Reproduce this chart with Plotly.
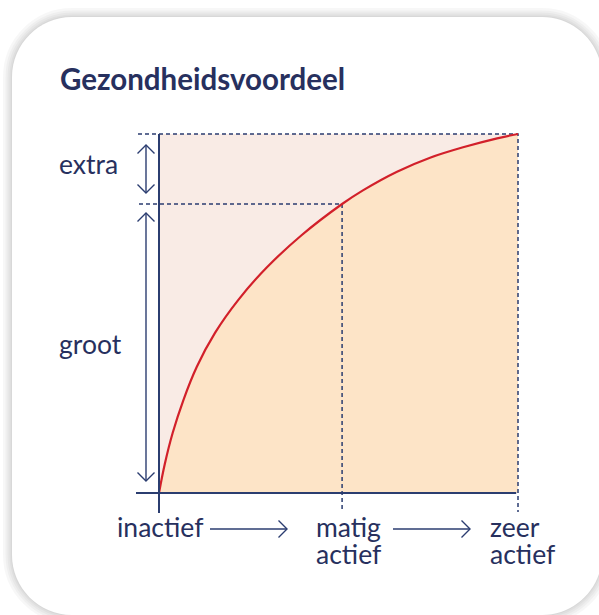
import plotly.graph_objects as go

# ---- data (activity 0..1, health benefit 0..1) ----
activity = [0, 0.016, 0.038, 0.068, 0.105, 0.156, 0.221, 0.300, 0.397,
            0.510, 0.568, 0.663, 0.755, 0.847, 0.942, 1.0]
benefit = [0, 0.080, 0.167, 0.259, 0.351, 0.446, 0.538, 0.628, 0.718,
           0.805, 0.843, 0.895, 0.934, 0.963, 0.988, 1.0]
moderate_x, moderate_y = 0.510, 0.805
level_labels = ["inactief", "matig<br>actief", "zeer<br>actief"]
band_labels = ["extra", "groot"]
title_text = "Gezondheidsvoordeel"

# ---- layout constants (page pixels) ----
W, H = 599, 615
X0PX, X1PX, Y0PX, Y1PX = 159, 518, 493, 134
S = (X1PX - X0PX)


def X(px):
    return (px - X0PX) / S


def Y(py):
    return (Y0PX - py) / S


NAVY = "#27305e"
LINE = "#2b3d70"
RED = "#d2202a"
FILL_UNDER = "#fde4c7"
FILL_ABOVE = "#f9ebe5"
FONT = "Lato"
FS = 26.5

fig = go.Figure()

# background square (above curve)
fig.add_trace(go.Scatter(x=[0, 1, 1, 0, 0], y=[0, 0, 1, 1, 0], fill="toself",
                         fillcolor=FILL_ABOVE, line=dict(width=0), mode="lines",
                         hoverinfo="skip"))
# area under curve
fig.add_trace(go.Scatter(x=activity, y=benefit, fill="tozeroy", fillcolor=FILL_UNDER,
                         line=dict(width=0), mode="lines", line_shape="spline",
                         hoverinfo="skip"))

dash = dict(color=LINE, width=1.5, dash="4px,3px")
# dashed guides
fig.add_trace(go.Scatter(x=[X(138), 1, 1], y=[1, 1, Y(512)], mode="lines", line=dash, hoverinfo="skip"))
fig.add_trace(go.Scatter(x=[X(139), moderate_x, moderate_x], y=[moderate_y, moderate_y, Y(512)],
                         mode="lines", line=dash, hoverinfo="skip"))

# curve
fig.add_trace(go.Scatter(x=activity, y=benefit, mode="lines", line_shape="spline",
                         line=dict(color=RED, width=2.2), hoverinfo="skip"))

# axes
fig.add_trace(go.Scatter(x=[X(136), 0.995], y=[0, 0], mode="lines",
                         line=dict(color=LINE, width=2), hoverinfo="skip"))
fig.add_trace(go.Scatter(x=[0, 0], y=[1, Y(513)], mode="lines",
                         line=dict(color=LINE, width=2), hoverinfo="skip"))

# arrows
A = 8.5 / S
arrow_style = dict(color=LINE, width=1.4)


def varrow(xp, top, bot):
    x = X(xp)
    yt, yb = Y(top), Y(bot)
    xs = [x - A, x, x + A, None, x, x, None, x - A, x, x + A]
    ys = [yt - A, yt, yt - A, None, yt, yb, None, yb + A, yb, yb + A]
    fig.add_trace(go.Scatter(x=xs, y=ys, mode="lines", line=arrow_style, hoverinfo="skip"))


def harrow(left, right, yp):
    y = Y(yp)
    xl, xr = X(left), X(right)
    xs = [xl, xr, None, xr - A, xr, xr - A]
    ys = [y, y, None, y + A, y, y - A]
    fig.add_trace(go.Scatter(x=xs, y=ys, mode="lines", line=arrow_style, hoverinfo="skip"))


varrow(146, 145, 193)
varrow(146, 213, 481)
harrow(210, 287, 529)
harrow(393, 470, 529)

ann = []
ann.append(dict(x=X(58), y=Y(78), text="<b>" + title_text + "</b>", xanchor="left", yanchor="middle",
                font=dict(family=FONT, size=29.5, color=NAVY)))
ann.append(dict(x=X(57), y=Y(164), text=band_labels[0], xanchor="left", yanchor="middle",
                font=dict(family=FONT, size=FS, color=NAVY)))
ann.append(dict(x=X(57), y=Y(344), text=band_labels[1], xanchor="left", yanchor="middle",
                font=dict(family=FONT, size=FS, color=NAVY)))
ann.append(dict(x=X(160), y=Y(527), text=level_labels[0], xanchor="center", yanchor="middle",
                font=dict(family=FONT, size=FS, color=NAVY)))
for xp, lab in [(314, level_labels[1]), (488, level_labels[2])]:
    l1, l2 = lab.split("<br>")
    ann.append(dict(x=X(xp), y=Y(527), text=l1, xanchor="left", yanchor="middle",
                    font=dict(family=FONT, size=FS, color=NAVY)))
    ann.append(dict(x=X(xp), y=Y(554), text=l2, xanchor="left", yanchor="middle",
                    font=dict(family=FONT, size=FS, color=NAVY)))
for a in ann:
    a.update(showarrow=False, xref="x", yref="y")


# card with soft shadow (paper coords)
def card_path(l, t, r, b, rad):
    def P(px, py):
        return f"{px / W:.5f},{1 - py / H:.5f}"
    k = 0.55 * rad
    return (f"M {P(l + rad, t)} L {P(r - rad, t)} C {P(r - rad + k, t)} {P(r, t + rad - k)} {P(r, t + rad)} "
            f"L {P(r, b - rad)} C {P(r, b - rad + k)} {P(r - rad + k, b)} {P(r - rad, b)} "
            f"L {P(l + rad, b)} C {P(l + rad - k, b)} {P(l, b - rad + k)} {P(l, b - rad)} "
            f"L {P(l, t + rad)} C {P(l, t + rad - k)} {P(l + rad - k, t)} {P(l + rad, t)} Z")


CARD = (12, 17, 602, 615, 60)
shapes = []
for w in [18, 13, 9, 5, 2]:
    shapes.append(dict(type="path", xref="paper", yref="paper", layer="below",
                       path=card_path(*CARD),
                       line=dict(color="rgba(0,0,0,0.03)", width=w), fillcolor="rgba(0,0,0,0)"))
shapes.append(dict(type="path", xref="paper", yref="paper", layer="below",
                   path=card_path(*CARD),
                   line=dict(width=0), fillcolor="white"))

fig.update_layout(
    width=W, height=H, autosize=False,
    margin=dict(l=0, r=0, t=0, b=0, pad=0),
    paper_bgcolor="white", plot_bgcolor="rgba(0,0,0,0)",
    showlegend=False,
    xaxis=dict(range=[X(0), X(W)], visible=False, fixedrange=True),
    yaxis=dict(range=[Y(H), Y(0)], visible=False, fixedrange=True),
    annotations=ann, shapes=shapes,
)
fig.write_html("out.html", config={"displayModeBar": False},
               post_script="document.body.style.margin='0';document.body.style.overflow='hidden';")
